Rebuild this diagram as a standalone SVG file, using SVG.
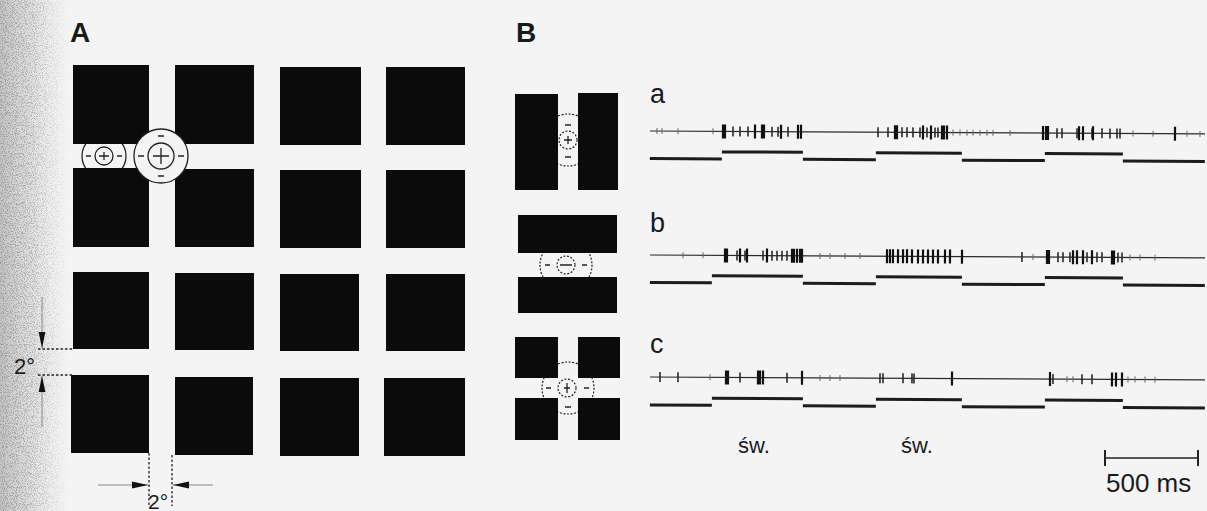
<svg xmlns="http://www.w3.org/2000/svg" width="1207" height="511" viewBox="0 0 1207 511">
  <defs>
    <linearGradient id="edgeFade" x1="0" y1="0" x2="1" y2="0">
      <stop offset="0" stop-color="#c4c4c4" stop-opacity="1"/>
      <stop offset="0.45" stop-color="#d8d8d8" stop-opacity="0.7"/>
      <stop offset="1" stop-color="#f4f4f4" stop-opacity="0"/>
    </linearGradient>
    <filter id="grain" x="0" y="0" width="100%" height="100%" color-interpolation-filters="sRGB">
      <feTurbulence type="fractalNoise" baseFrequency="0.9" numOctaves="2" seed="7" result="noise"/>
      <feColorMatrix in="noise" type="matrix" values="0 0 0 0 0.62  0 0 0 0 0.62  0 0 0 0 0.62  6 0 0 0 -2.9" result="speck"/>
      <feComposite in="speck" in2="SourceGraphic" operator="in" result="speckMasked"/>
      <feMerge>
        <feMergeNode in="SourceGraphic"/>
        <feMergeNode in="speckMasked"/>
      </feMerge>
    </filter>
    <marker id="arrow" markerUnits="userSpaceOnUse" markerWidth="16" markerHeight="8" refX="16" refY="4" orient="auto">
      <path d="M0,0.6 L16,4 L0,7.4 z" fill="#111"/>
    </marker>
  </defs>
  <style>
    .sq{fill:#0b0b0b}
    .lbl{font-family:"Liberation Sans",Arial,sans-serif;fill:#1a1a1a}
    .panel{font-weight:bold;font-size:28px}
    .trl{font-size:27px}
    .rf{fill:none;stroke:#222;stroke-width:1.3}
    .rfd{fill:none;stroke:#222;stroke-width:1.2;stroke-dasharray:2 1.6}
    .dash{fill:none;stroke:#222;stroke-width:1.3;stroke-dasharray:2.5 2}
    .tail{fill:none;stroke:#888;stroke-width:1}
    .base{fill:none;stroke:#2a2a2a;stroke-width:1.2}
    .step{fill:none;stroke:#1c1c1c;stroke-width:3}
    .sp1{fill:none;stroke:#666;stroke-width:1}
    .sp2{fill:none;stroke:#2a2a2a;stroke-width:1.6}
    .sp3{fill:none;stroke:#111;stroke-width:2.2}
  </style>

  <!-- paper -->
  <rect width="1207" height="511" fill="#f4f4f4"/>
  <rect x="0" y="0" width="70" height="511" fill="url(#edgeFade)" filter="url(#grain)"/>

  <!-- panel letters -->
  <text class="lbl panel" x="70" y="42">A</text>
  <text class="lbl panel" x="516" y="42">B</text>

  <!-- Panel A: small receptive field, surround hidden by squares -->
  <g id="rf-small">
    <circle class="rf" cx="104" cy="156" r="22"/>
    <circle class="rf" cx="104" cy="156" r="9"/>
    <path class="rf" d="M99 156H109M104 152V160M86 156H91M117 156H122"/>
  </g>

  <!-- Panel A: grid of black squares -->
  <g id="grid">
    <rect class="sq" x="73" y="65" width="76" height="79"/>
    <rect class="sq" x="175" y="65" width="79" height="79"/>
    <rect class="sq" x="280" y="67" width="81" height="78"/>
    <rect class="sq" x="386" y="67" width="79" height="78"/>
    <rect class="sq" x="73" y="168" width="76" height="79"/>
    <rect class="sq" x="175" y="169" width="79" height="78"/>
    <rect class="sq" x="280" y="170" width="81" height="78"/>
    <rect class="sq" x="386" y="170" width="79" height="78"/>
    <rect class="sq" x="73" y="272" width="76" height="77"/>
    <rect class="sq" x="175" y="273" width="79" height="77"/>
    <rect class="sq" x="280" y="274" width="79" height="77"/>
    <rect class="sq" x="386" y="274" width="79" height="77"/>
    <rect class="sq" x="71" y="375" width="78" height="78"/>
    <rect class="sq" x="175" y="377" width="78" height="78"/>
    <rect class="sq" x="280" y="378" width="79" height="78"/>
    <rect class="sq" x="384" y="378" width="81" height="78"/>
  </g>

  <!-- Panel A: large receptive field at the crossing -->
  <g id="rf-large">
    <circle cx="161" cy="156" r="27" fill="#f4f4f4" stroke="#222" stroke-width="1.3"/>
    <circle class="rf" cx="161" cy="156" r="13"/>
    <path class="rf" d="M153 156H169M161 148V164M138 156H144M178 156H184M158 136H164M158 176H164"/>
  </g>

  <!-- Panel A: 2 degree dimension marks -->
  <g id="dimensions">
    <path class="dash" d="M38 349H73M38 375H73"/>
    <path class="dash" d="M149 453V506M172 455V506"/>
    <line class="tail" x1="42" y1="297" x2="42" y2="348" marker-end="url(#arrow)"/>
    <line class="tail" x1="42" y1="427" x2="42" y2="376" marker-end="url(#arrow)"/>
    <line class="tail" x1="98" y1="485" x2="148" y2="485" marker-end="url(#arrow)"/>
    <line class="tail" x1="213" y1="485" x2="173" y2="485" marker-end="url(#arrow)"/>
    <text class="lbl" x="14" y="374" font-size="22">2°</text>
    <text class="lbl" x="148" y="509" font-size="21">2°</text>
  </g>

  <!-- Panel B: stimulus a, two vertical bars -->
  <g id="stim-a">
    <circle class="rfd" cx="568" cy="140" r="26"/>
    <rect class="sq" x="515" y="94" width="43" height="96"/>
    <rect class="sq" x="578" y="93" width="40" height="97"/>
    <circle class="rfd" cx="568" cy="140" r="9"/>
    <path class="rf" d="M564 140H572M568 136V144M565 125H571M565 157H571"/>
  </g>

  <!-- Panel B: stimulus b, two horizontal bars -->
  <g id="stim-b">
    <circle class="rfd" cx="566" cy="265" r="26"/>
    <rect class="sq" x="518" y="215" width="99" height="38"/>
    <rect class="sq" x="518" y="277" width="99" height="36"/>
    <circle class="rfd" cx="566" cy="265" r="9"/>
    <path class="rf" d="M560 265H572M545 265H550M582 265H587"/>
  </g>

  <!-- Panel B: stimulus c, four squares -->
  <g id="stim-c">
    <circle class="rfd" cx="568" cy="388" r="26"/>
    <rect class="sq" x="515" y="337" width="43" height="41"/>
    <rect class="sq" x="578" y="337" width="42" height="41"/>
    <rect class="sq" x="515" y="398" width="43" height="42"/>
    <rect class="sq" x="578" y="398" width="42" height="42"/>
    <circle class="rfd" cx="567" cy="388" r="9"/>
    <path class="rf" d="M567 383V393M564 388H570M546 388H551M584 388H589M565 407H571"/>
  </g>

  <!-- Recording a -->
  <g id="trace-a">
    <text class="lbl trl" x="650" y="103">a</text>
    <g transform="translate(0,131) rotate(0.3 650 0)">
      <path class="base" d="M650 0H1205"/>
      <path class="step" d="M650 27.5H722M722 20.5H803M803 27.5H876M876 20.5H962M962 27.5H1045M1045 20.5H1123M1123 27.5H1205"/>
      <path class="sp1" d="M657 -3V3M662 -3V3M678 -3V3M713 -3V3M953 -3V3M960 -3V3M967 -3V3M973 -3V3M980 -3V3M987 -3V3M993 -3V3M1010 -3V3M1133 -3V3M1153 -3V3M1187 -3V3M1200 -3V3"/>
      <path class="sp2" d="M733 -5V5M740 -5V5M748 -5V5M772 -5V5M778 -5V5M788 -5V5M878 -5V5M888 -5V5M902 -5V5M907 -5V5M913 -5V5M920 -5V5M927 -5V5M935 -5V5M938 -5V5M1057 -5V5M1062 -5V5M1077 -5V5M1092 -5V5M1102 -5V5M1110 -5V5M1117 -5V5M1120 -5V5"/>
      <path class="sp3" d="M723 -7V7M725 -7V7M755 -7V7M762 -7V7M764 -7V7M781 -7V7M798 -7V7M801 -7V7M895 -7V7M897 -7V7M923 -7V7M931 -7V7M942 -7V7M944 -7V7M947 -7V7M1043 -7V7M1046 -7V7M1048 -7V7M1079 -7V7M1083 -7V7M1093 -7V7M1175 -7V7"/>
    </g>
  </g>

  <!-- Recording b -->
  <g id="trace-b">
    <text class="lbl trl" x="650" y="232">b</text>
    <g transform="translate(0,255) rotate(0.3 650 0)">
      <path class="base" d="M650 0H1205"/>
      <path class="step" d="M650 27.5H712M712 20.5H803M803 27.5H876M876 20.5H962M962 27.5H1045M1045 20.5H1123M1123 27.5H1205"/>
      <path class="sp1" d="M683 -3V3M703 -3V3M820 -3V3M830 -3V3M845 -3V3M860 -3V3M1033 -3V3M1130 -3V3M1140 -3V3M1155 -3V3"/>
      <path class="sp2" d="M737 -5V5M745 -5V5M763 -5V5M772 -5V5M777 -5V5M782 -5V5M787 -5V5M1022 -5V5M1058 -5V5M1063 -5V5M1070 -5V5M1087 -5V5M1097 -5V5M1102 -5V5M1118 -5V5M1122 -5V5"/>
      <path class="sp3" d="M725 -7V7M727 -7V7M740 -7V7M747 -7V7M767 -7V7M792 -7V7M794 -7V7M797 -7V7M800 -7V7M802 -7V7M887 -7V7M890 -7V7M893 -7V7M898 -7V7M903 -7V7M907 -7V7M912 -7V7M918 -7V7M923 -7V7M928 -7V7M933 -7V7M938 -7V7M945 -7V7M950 -7V7M962 -7V7M1047 -7V7M1049 -7V7M1073 -7V7M1077 -7V7M1083 -7V7M1092 -7V7M1112 -7V7M1114 -7V7"/>
    </g>
  </g>

  <!-- Recording c -->
  <g id="trace-c">
    <text class="lbl trl" x="650" y="353">c</text>
    <g transform="translate(0,377) rotate(0.3 650 0)">
      <path class="base" d="M650 0H1205"/>
      <path class="step" d="M650 28H712M712 21H803M803 28H876M876 21H962M962 28H1045M1045 21H1123M1123 28H1205"/>
      <path class="sp1" d="M710 -3V3M820 -3V3M830 -3V3M840 -3V3M1067 -3V3M1073 -3V3M1128 -3V3M1135 -3V3M1145 -3V3M1155 -3V3"/>
      <path class="sp2" d="M660 -5V5M678 -5V5M740 -5V5M787 -5V5M880 -5V5M883 -5V5M903 -5V5M912 -5V5M914 -5V5M1053 -5V5M1082 -5V5M1092 -5V5"/>
      <path class="sp3" d="M726 -7V7M728 -7V7M758 -7V7M760 -7V7M763 -7V7M802 -7V7M952 -7V7M1050 -7V7M1112 -7V7M1116 -7V7M1122 -7V7"/>
    </g>
  </g>

  <!-- light-on labels and time scale -->
  <g id="labels">
    <text class="lbl" x="738" y="453" font-size="22">św.</text>
    <text class="lbl" x="901" y="453" font-size="22">św.</text>
  </g>
  <g id="scalebar">
    <path fill="none" stroke="#222" stroke-width="1.3" d="M1105 458H1198"/>
    <path fill="none" stroke="#222" stroke-width="2" d="M1105 450V466M1198 450V466"/>
    <text class="lbl" x="1106" y="492" font-size="26">500 ms</text>
  </g>
</svg>
